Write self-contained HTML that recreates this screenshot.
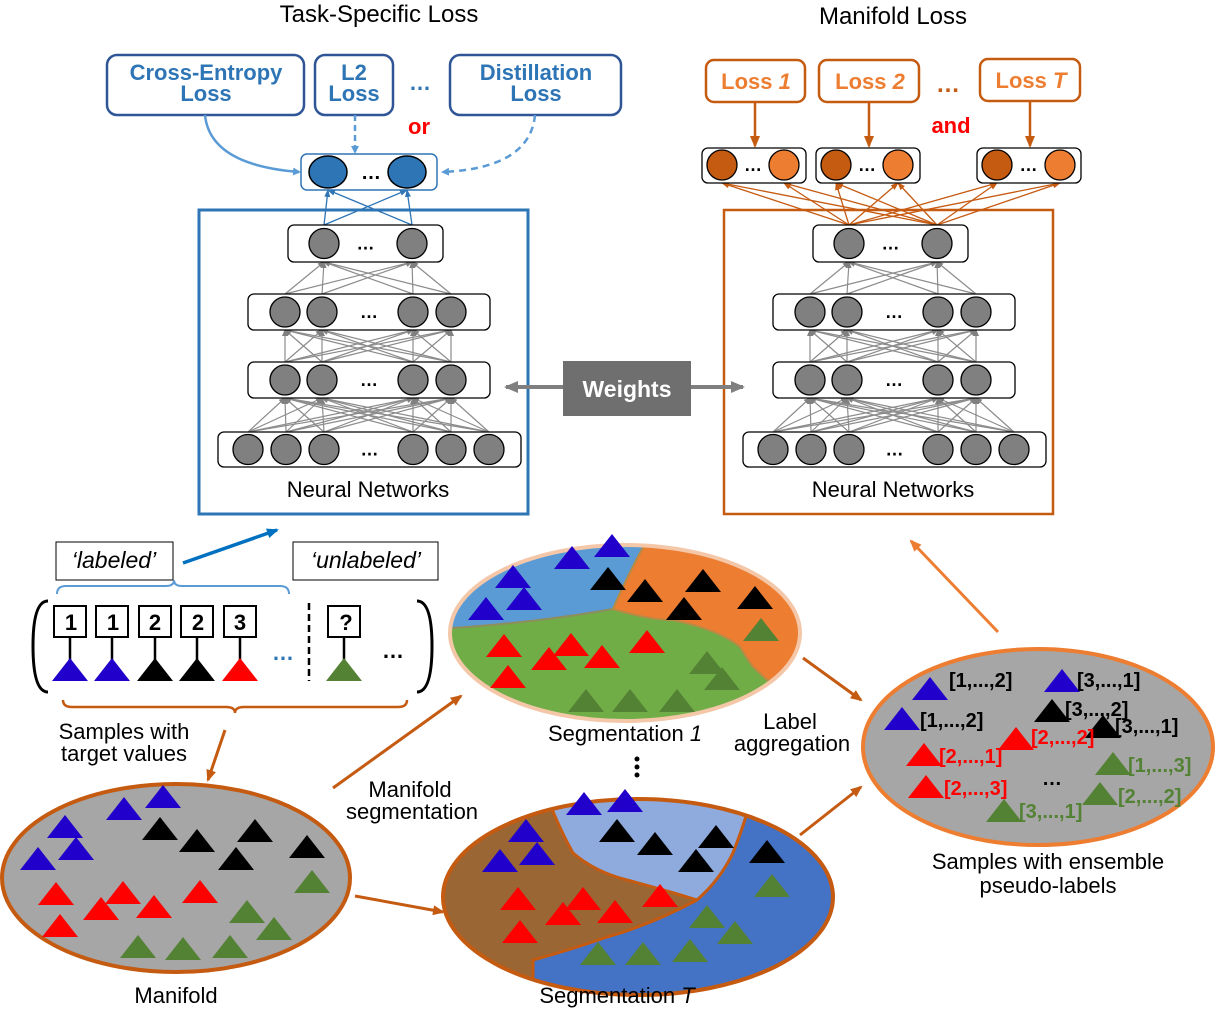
<!DOCTYPE html>
<html><head><meta charset="utf-8"><style>
body{margin:0;background:#fff}
svg{display:block;font-family:"Liberation Sans","DejaVu Sans",sans-serif}
</style></head><body>
<svg id="s" width="1215" height="1009" viewBox="0 0 1215 1009" xmlns="http://www.w3.org/2000/svg">
<defs>
<marker id="ab" markerWidth="8" markerHeight="8" refX="6" refY="4" orient="auto" markerUnits="userSpaceOnUse"><path d="M0,0 L8,4 L0,8z" fill="#5b9bd5"/></marker>
<marker id="ab2" markerWidth="12" markerHeight="10" refX="10" refY="5" orient="auto" markerUnits="userSpaceOnUse"><path d="M0,0 L12,5 L0,10z" fill="#0070c0"/></marker>
<marker id="ao" markerWidth="12" markerHeight="10" refX="10" refY="5" orient="auto" markerUnits="userSpaceOnUse"><path d="M0,0 L12,5 L0,10z" fill="#c55a11"/></marker>
<marker id="ao2" markerWidth="12" markerHeight="10" refX="10" refY="5" orient="auto" markerUnits="userSpaceOnUse"><path d="M0,0 L12,5 L0,10z" fill="#ed7d31"/></marker>
<marker id="aos" markerWidth="8" markerHeight="8" refX="7" refY="4" orient="auto" markerUnits="userSpaceOnUse"><path d="M0,1 L8,4 L0,7z" fill="#c55a11"/></marker>
<marker id="abs" markerWidth="8" markerHeight="8" refX="7" refY="4" orient="auto" markerUnits="userSpaceOnUse"><path d="M0,1 L8,4 L0,7z" fill="#2e75b6"/></marker>
<marker id="ag" markerWidth="7" markerHeight="7" refX="6" refY="3.5" orient="auto" markerUnits="userSpaceOnUse"><path d="M0,0.5 L7,3.5 L0,6.5z" fill="#808080"/></marker>
<marker id="agb" markerWidth="14" markerHeight="12" refX="12" refY="6" orient="auto" markerUnits="userSpaceOnUse"><path d="M0,0 L14,6 L0,12z" fill="#7f7f7f"/></marker>
<clipPath id="c1"><ellipse cx="625" cy="633" rx="175" ry="88"/></clipPath>
<clipPath id="c2"><ellipse cx="638" cy="897" rx="195" ry="98"/></clipPath>
</defs>
<g id="net"></g>

<!-- titles -->
<text x="379" y="22" font-size="24" text-anchor="middle">Task-Specific Loss</text>
<text x="893" y="24" font-size="24" text-anchor="middle">Manifold Loss</text>

<!-- left loss boxes -->
<g fill="#fff" stroke="#2f5597" stroke-width="2.5">
<rect x="107" y="55" width="197" height="60" rx="10"/>
<rect x="315" y="55" width="78" height="60" rx="10"/>
<rect x="450" y="55" width="171" height="60" rx="10"/>
</g>
<g fill="#2e75b6" font-size="22" font-weight="bold" text-anchor="middle">
<text x="206" y="80">Cross-Entropy</text><text x="206" y="101">Loss</text>
<text x="354" y="80">L2</text><text x="354" y="101">Loss</text>
<text x="536" y="80">Distillation</text><text x="536" y="101">Loss</text>
<text x="420" y="90">…</text>
</g>
<text x="419" y="134" font-size="22" font-weight="bold" fill="#ff0000" text-anchor="middle">or</text>
<path d="M205,115 Q210,165 299,172" fill="none" stroke="#5b9bd5" stroke-width="2.5" marker-end="url(#ab)"/>
<path d="M355,115 L355,152" fill="none" stroke="#5b9bd5" stroke-width="2.5" stroke-dasharray="6,4" marker-end="url(#ab)"/>
<path d="M535,115 Q530,168 443,172" fill="none" stroke="#5b9bd5" stroke-width="2.5" stroke-dasharray="7,5" marker-end="url(#ab)"/>
<rect x="301" y="154" width="136" height="36" rx="6" fill="#fff" stroke="#2e75b6" stroke-width="1.5"/>
<ellipse cx="328" cy="172" rx="19" ry="16" fill="#2e75b6" stroke="#000" stroke-width="1.5"/>
<ellipse cx="407" cy="172" rx="19" ry="16" fill="#2e75b6" stroke="#000" stroke-width="1.5"/>
<text x="371" y="179" font-size="20" font-weight="bold" text-anchor="middle">…</text>

<!-- right loss boxes -->
<g fill="#fff" stroke="#c55a11" stroke-width="2.5">
<rect x="706" y="60" width="99" height="42" rx="8"/>
<rect x="819" y="60" width="100" height="42" rx="8"/>
<rect x="980" y="59" width="100" height="42" rx="8"/>
</g>
<g fill="#ed7d31" font-size="22" font-weight="bold" text-anchor="middle">
<text x="756" y="89">Loss <tspan font-style="italic">1</tspan></text>
<text x="870" y="89">Loss <tspan font-style="italic">2</tspan></text>
<text x="1031" y="88">Loss <tspan font-style="italic">T</tspan></text>
</g>
<text x="948" y="92" font-size="24" font-weight="bold" fill="#c55a11" text-anchor="middle">…</text>
<text x="951" y="133" font-size="22" font-weight="bold" fill="#ff0000" text-anchor="middle">and</text>
<g stroke="#c55a11" stroke-width="2.5">
<line x1="755" y1="102" x2="755" y2="146" marker-end="url(#ao)"/>
<line x1="869" y1="102" x2="869" y2="146" marker-end="url(#ao)"/>
<line x1="1030" y1="101" x2="1030" y2="146" marker-end="url(#ao)"/>
</g>
<g id="rout"></g>

<!-- frames -->
<rect x="199" y="210" width="329" height="304" fill="none" stroke="#2e75b6" stroke-width="3"/>
<rect x="724" y="210" width="329" height="304" fill="none" stroke="#c55a11" stroke-width="2.5"/>
<text x="368" y="497" font-size="22" text-anchor="middle">Neural Networks</text>
<text x="893" y="497" font-size="22" text-anchor="middle">Neural Networks</text>
<g id="layers"></g>

<!-- weights -->
<line x1="563" y1="387" x2="506" y2="387" stroke="#7f7f7f" stroke-width="4" marker-end="url(#agb)"/>
<line x1="691" y1="387" x2="743" y2="387" stroke="#7f7f7f" stroke-width="4" marker-end="url(#agb)"/>
<rect x="563" y="361" width="128" height="55" fill="#6f6f6f"/>
<text x="627" y="397" font-size="23" font-weight="bold" fill="#fff" text-anchor="middle">Weights</text>

<!-- labeled / unlabeled -->
<rect x="56" y="542" width="117" height="38" fill="#fff" stroke="#000" stroke-width="1"/>
<rect x="293" y="542" width="145" height="38" fill="#fff" stroke="#000" stroke-width="1"/>
<text x="114" y="568" font-size="23" font-style="italic" text-anchor="middle">‘labeled’</text>
<text x="366" y="568" font-size="23" font-style="italic" text-anchor="middle">‘unlabeled’</text>
<line x1="183" y1="563" x2="277" y2="530" stroke="#0070c0" stroke-width="3.5" marker-end="url(#ab2)"/>
<path d="M57,594 Q57,586 66,586 L166,586 Q174,586 174,580 Q174,586 182,586 L280,586 Q289,586 289,594" fill="none" stroke="#5b9bd5" stroke-width="2"/>
<path d="M48,601 Q33,601 33,646 Q33,692 48,692" fill="none" stroke="#000" stroke-width="3"/>
<path d="M417,601 Q432,601 432,646 Q432,692 417,692" fill="none" stroke="#000" stroke-width="3"/>
<g id="samples"></g>
<g font-size="22" font-weight="bold" text-anchor="middle">
<text x="71" y="630">1</text><text x="113" y="630">1</text><text x="155" y="630">2</text><text x="198" y="630">2</text><text x="240" y="630">3</text><text x="346" y="630">?</text>
</g>
<text x="283" y="660" font-size="22" font-weight="bold" fill="#2e75b6" text-anchor="middle">…</text>
<text x="393" y="658" font-size="22" font-weight="bold" text-anchor="middle">…</text>
<line x1="309" y1="603" x2="309" y2="681" stroke="#000" stroke-width="2.5" stroke-dasharray="7,4"/>
<path d="M63,700 Q63,707 72,707 L226,707 Q235,707 235,713 Q235,707 244,707 L398,707 Q407,707 407,700" fill="none" stroke="#c55a11" stroke-width="2.5"/>
<text x="124" y="739" font-size="22" text-anchor="middle">Samples with</text>
<text x="124" y="761" font-size="22" text-anchor="middle">target values</text>

<!-- ellipses -->
<ellipse cx="176" cy="878" rx="174" ry="94" fill="#a6a6a6" stroke="#c55a11" stroke-width="4"/>
<g clip-path="url(#c1)">
<rect x="440" y="540" width="370" height="190" fill="#70ad47"/>
<path d="M440,628 L452,628 Q540,622 613,609 Q630,570 650,535 L440,535z" fill="#5b9bd5" stroke="#8d8d5e" stroke-width="2"/>
<path d="M650,535 Q630,570 613,609 Q650,620 673,620 Q720,630 740,647 Q748,660 753,667 L767,680 L810,690 L810,535z" fill="#ed7d31" stroke="#b98a45" stroke-width="2"/>
</g>
<ellipse cx="625" cy="633" rx="175" ry="88" fill="none" stroke="#f4c7a8" stroke-width="4"/>
<g clip-path="url(#c2)">
<rect x="440" y="795" width="400" height="205" fill="#9a6634"/>
<path d="M547,797 Q560,830 573,853 Q595,872 627,880 Q665,890 697,900 Q720,880 733,853 Q742,830 747,813 L840,780 L540,780z" fill="#8faadc" stroke="#c55a11" stroke-width="3"/>
<path d="M747,813 Q742,830 733,853 Q720,880 697,900 Q650,925 607,937 Q570,950 533,960 L533,1000 L840,1000 L840,800z" fill="#4472c4" stroke="#c55a11" stroke-width="3"/>
</g>
<ellipse cx="638" cy="897" rx="195" ry="98" fill="none" stroke="#c55a11" stroke-width="4"/>
<ellipse cx="1038" cy="747" rx="175" ry="98" fill="#a6a6a6" stroke="#ed7d31" stroke-width="4"/>
<g id="tris"></g>

<!-- arrows bottom -->
<g stroke="#c55a11" stroke-width="3" fill="none">
<line x1="225" y1="730" x2="208" y2="780" marker-end="url(#ao)"/>
<line x1="355" y1="896" x2="443" y2="912" marker-end="url(#ao)"/>
<line x1="333" y1="788" x2="461" y2="696" marker-end="url(#ao)"/>
<line x1="803" y1="658" x2="861" y2="700" marker-end="url(#ao)"/>
<line x1="800" y1="835" x2="861" y2="787" marker-end="url(#ao)"/>
</g>
<line x1="998" y1="632" x2="911" y2="541" stroke="#ed7d31" stroke-width="3" marker-end="url(#ao2)"/>

<g font-size="22" text-anchor="middle">
<text x="176" y="1003">Manifold</text>
<text x="410" y="797">Manifold</text>
<text x="412" y="819">segmentation</text>
<text x="625" y="741">Segmentation <tspan font-style="italic">1</tspan></text>
<text x="617" y="1003">Segmentation <tspan font-style="italic">T</tspan></text>
<text x="790" y="729">Label</text>
<text x="792" y="751">aggregation</text>
<text x="1048" y="869">Samples with ensemble</text>
<text x="1048" y="893">pseudo-labels</text>
</g>
<g fill="#000"><circle cx="637" cy="759" r="2.5"/><circle cx="637" cy="767" r="2.5"/><circle cx="637" cy="775" r="2.5"/></g>
<g font-size="20" font-weight="bold">
<text x="949" y="687">[1,...,2]</text>
<text x="1077" y="687">[3,...,1]</text>
<text x="920" y="727">[1,...,2]</text>
<text x="1065" y="716">[3,...,2]</text>
<text x="1115" y="733">[3,...,1]</text>
<text x="1031" y="744" fill="#ff0000">[2,...,2]</text>
<text x="939" y="763" fill="#ff0000">[2,...,1]</text>
<text x="944" y="795" fill="#ff0000">[2,...,3]</text>
<text x="1128" y="772" fill="#548235">[1,...,3]</text>
<text x="1118" y="803" fill="#548235">[2,...,2]</text>
<text x="1019" y="818" fill="#548235">[3,...,1]</text>
<text x="1052" y="785" text-anchor="middle">…</text>
</g>
</svg>
<script>
var NS="http://www.w3.org/2000/svg";
function el(p,t,a){var e=document.createElementNS(NS,t);for(var k in a)e.setAttribute(k,a[k]);document.getElementById(p).appendChild(e);return e;}
// layers
var L=[{x:218,w:303,y:432,h:35,c:[248,286,324,413,451,489]},{x:248,w:242,y:362,h:36,c:[285,322,413,451]},{x:248,w:242,y:294,h:36,c:[285,322,413,451]},{x:288,w:155,y:225,h:37,c:[324,412]}];
[0,525].forEach(function(o){
 for(var i=0;i<3;i++){var a=L[i],b=L[i+1];a.c.forEach(function(x1){b.c.forEach(function(x2){el("net","line",{x1:x1+o,y1:a.y,x2:x2+o,y2:b.y+b.h,stroke:"#8c8c8c","stroke-width":1.2,"marker-end":"url(#ag)"});});});}
 L.forEach(function(l){el("layers","rect",{x:l.x+o,y:l.y,width:l.w,height:l.h,rx:6,fill:"#fff",stroke:"#000","stroke-width":1.3});
  l.c.forEach(function(x){el("layers","circle",{cx:x+o,cy:l.y+l.h/2,r:15,fill:"#808080",stroke:"#000","stroke-width":1.3});});
  var t=el("layers","text",{x:(l.x+l.w/2)+o,y:l.y+l.h/2+6,"font-size":18,"font-weight":"bold","text-anchor":"middle"});t.textContent="…";});
});
// left output connections
[324,412].forEach(function(x1){[328,407].forEach(function(x2){el("net","line",{x1:x1,y1:225,x2:x2,y2:190,stroke:"#2e75b6","stroke-width":1.3,"marker-end":"url(#abs)"});});});
// right outputs
var R=[[702,722,784],[816,836,898],[977,997,1060]];
[849,937].forEach(function(x1){R.forEach(function(r){[r[1],r[2]].forEach(function(x2){el("net","line",{x1:x1,y1:225,x2:x2,y2:183,stroke:"#c55a11","stroke-width":1.3,"marker-end":"url(#aos)"});});});});
R.forEach(function(r){el("rout","rect",{x:r[0],y:148,width:104,height:35,rx:6,fill:"#fff",stroke:"#000","stroke-width":1.3});
 el("rout","circle",{cx:r[1],cy:165,r:15,fill:"#c55a11",stroke:"#000","stroke-width":1.3});
 el("rout","circle",{cx:r[2],cy:165,r:15,fill:"#ed7d31",stroke:"#000","stroke-width":1.3});
 var t=el("rout","text",{x:(r[1]+r[2])/2,y:171,"font-size":18,"font-weight":"bold","text-anchor":"middle"});t.textContent="…";});
// triangles
var C={b:"#2200cc",k:"#000",r:"#ff0000",g:"#548235"};
function tri(g,x,y,c,w,h){w=w||36;h=h||23;el(g,"polygon",{points:(x-w/2)+","+y+" "+(x+w/2)+","+y+" "+x+","+(y-h),fill:C[c]});}
// samples
[[70,"b"],[112,"b"],[155,"k"],[197,"k"],[240,"r"],[344,"g"]].forEach(function(s){
 el("samples","rect",{x:s[0]-16,y:606,width:32,height:31,fill:"#fff",stroke:"#000","stroke-width":2});
 el("samples","line",{x1:s[0],y1:637,x2:s[0],y2:660,stroke:"#000","stroke-width":2.5});
 tri("samples",s[0],681,s[1],36,23);});
var T=[
[124,820,"b"],[163,808,"b"],[65,838,"b"],[76,860,"b"],[38,870,"b"],[160,840,"k"],[197,852,"k"],[255,842,"k"],[236,870,"k"],[307,858,"k"],
[56,905,"r"],[123,904,"r"],[101,920,"r"],[154,918,"r"],[200,903,"r"],[60,937,"r"],
[312,893,"g"],[247,923,"g"],[274,940,"g"],[138,958,"g"],[183,960,"g"],[230,958,"g"],
[572,569,"b"],[612,557,"b"],[513,588,"b"],[524,610,"b"],[486,620,"b"],[608,590,"k"],[645,602,"k"],[703,592,"k"],[684,620,"k"],[755,609,"k"],
[504,657,"r"],[571,656,"r"],[549,670,"r"],[602,668,"r"],[647,653,"r"],[508,688,"r"],[761,641,"g"],[707,674,"g"],[722,690,"g"],[586,712,"g"],[630,712,"g"],[677,712,"g"],
[625,812,"b"],[584,815,"b"],[526,842,"b"],[537,865,"b"],[500,872,"b"],[617,842,"k"],[655,855,"k"],[716,848,"k"],[696,872,"k"],[767,863,"k"],
[518,910,"r"],[583,910,"r"],[563,925,"r"],[615,923,"r"],[660,907,"r"],[520,943,"r"],[772,897,"g"],[707,928,"g"],[735,944,"g"],[598,965,"g"],[643,965,"g"],[690,962,"g"],
[930,700,"b"],[1062,692,"b"],[902,730,"b"],[1052,722,"k"],[1103,738,"k"],[1016,750,"r"],[924,766,"r"],[926,798,"r"],[1113,775,"g"],[1100,805,"g"],[1004,822,"g"]];
T.forEach(function(t){tri("tris",t[0],t[1],t[2]);});
</script>
</body></html>
